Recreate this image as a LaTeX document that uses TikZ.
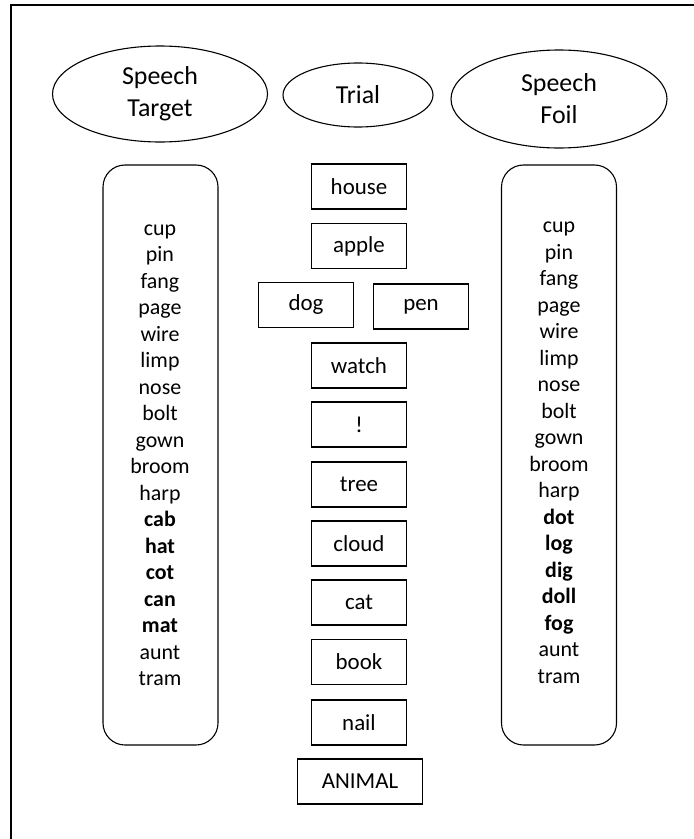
\documentclass[tikz,border=0pt]{standalone}
\usepackage{fontspec}
\setmainfont{Carlito}
\usetikzlibrary{shapes,positioning}

\begin{document}
\begin{tikzpicture}[x=1bp,y=-1bp,
    cond/.style={ellipse,draw,line width=1.1bp,inner sep=0pt,align=center,font=\fontsize{26}{32}\selectfont},
    listbox/.style={draw,line width=1.1bp,rounded corners=22bp,minimum width=115bp,minimum height=580bp},
    word/.style={anchor=base,inner sep=0pt,font=\fontsize{22}{26}\selectfont},
    stim/.style={draw,line width=1.1bp,inner sep=0pt,minimum width=95bp,minimum height=45bp,font=\fontsize{23}{27}\selectfont}]
    \useasboundingbox (0,0) rectangle (694,839);

    % Frame
    \draw[line width=1.2bp] (11,839) -- (11,5) -- (694,5);

    % Conditions
    \node[cond, minimum width=215bp, minimum height=96bp] (target) at (160,94) {Speech\\Target};
    \node[cond, minimum width=150bp, minimum height=64bp] (trial) at (358,95) {Trial};
    \node[cond, minimum width=216bp, minimum height=98bp] (foil) at (559,99) {Speech\\Foil};

    % Word lists
    \node[listbox] (tlist) at (160.5,455) {};
    \node[listbox] (flist) at (559,455) {};
    \foreach \w [count=\i] in {cup,pin,fang,page,wire,limp,nose,bolt,gown,broom,harp,
        \textbf{cab},\textbf{hat},\textbf{cot},\textbf{can},\textbf{mat},aunt,tram} {
        \node[word] (t\i) at (160,208.5+26.5*\i) {\w};
    }
    \foreach \w [count=\i] in {cup,pin,fang,page,wire,limp,nose,bolt,gown,broom,harp,
        \textbf{dot},\textbf{log},\textbf{dig},\textbf{doll},\textbf{fog},aunt,tram} {
        \node[word] (f\i) at (559,206+26.5*\i) {\w};
    }

    % Trial sequence
    \node[stim] (house) at (359,186.5) {house};
    \node[stim] (apple) at (359,246) {apple};
    \node[stim] (dog) at (306,305) {dog};
    \node[stim] (pen) at (421,306.5) {pen};
    \foreach \w/\y in {watch/365.5,!/424.5,tree/484.5,cloud/543.5,cat/602.5,book/662,nail/722.5} {
        \node[stim] (s\y) at (359,\y) {\w};
    }
    \node[stim, minimum width=125bp] (animal) at (360,781.5) {ANIMAL};
\end{tikzpicture}
\end{document}
